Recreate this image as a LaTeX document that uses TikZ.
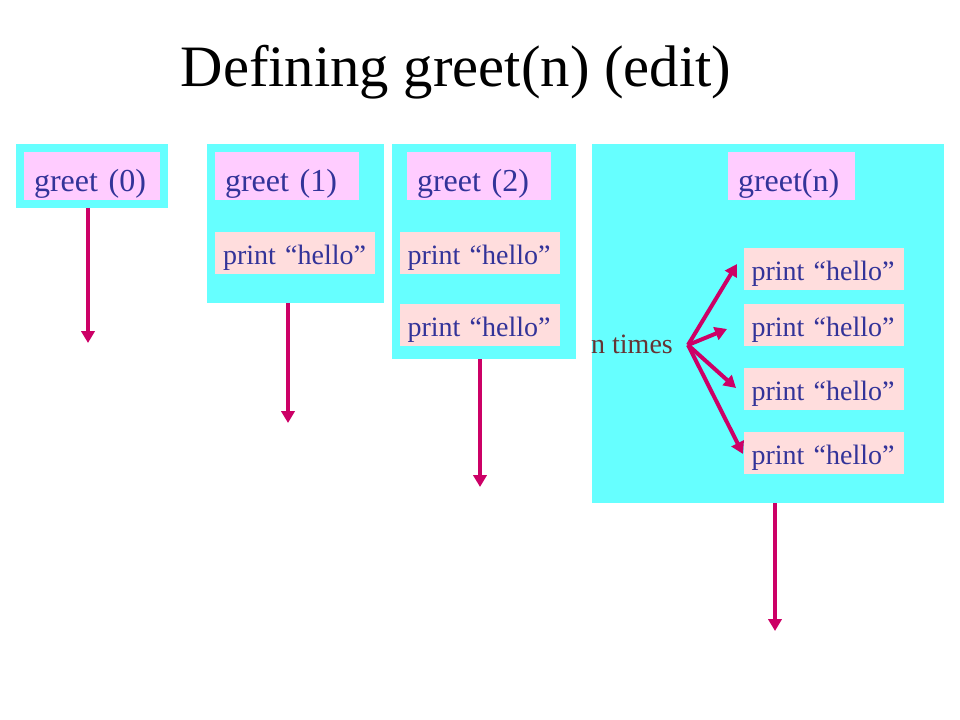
\documentclass[tikz,border=0pt]{standalone}
\usepackage{fontspec}
\setmainfont{Liberation Serif}
\usetikzlibrary{arrows.meta}

\definecolor{framecyan}{HTML}{66FFFF}
\definecolor{headpink}{HTML}{FFCCFF}
\definecolor{printpink}{HTML}{FFDDDD}
\definecolor{textblue}{HTML}{333399}
\definecolor{arrowred}{HTML}{CC0066}
\definecolor{timesbrown}{HTML}{663333}

\tikzset{
  frame/.style={fill=framecyan, inner sep=0pt, outer sep=0pt},
  headbox/.style={fill=headpink, text=textblue, font=\fontsize{24}{28}\selectfont,
    inner xsep=7.5pt, inner ysep=0pt, minimum height=36pt, text height=24pt, text depth=0pt, align=left},
  printbox/.style={fill=printpink, text=textblue, font=\fontsize{21}{25}\selectfont,
    inner xsep=6pt, inner ysep=0pt, minimum height=31.5pt, text height=17.5pt, text depth=0pt,
    text width=108pt, align=left},
  flow/.style={draw=arrowred, line width=3pt, -{Triangle[length=9pt,width=10pt]}}
}

\begin{document}
\begin{tikzpicture}[x=0.75pt,y=-0.75pt]

        \useasboundingbox (0,0) rectangle (960,720);

        % title
        \node[anchor=base, font=\fontsize{44}{50}\selectfont] (title) at (456,87) {Defining greet(n) (edit)};

        % frames
        \node[frame, minimum width=114pt, minimum height=48pt] (f0) at (92,176) {};
        \node[frame, minimum width=132.75pt, minimum height=119.25pt] (f1) at (295.5,223.5) {};
        \node[frame, minimum width=138pt, minimum height=161.25pt] (f2) at (484,251.5) {};
        \node[frame, minimum width=264pt, minimum height=269.25pt] (fn) at (768,323.5) {};

        % headers
        \node[headbox, text width=87pt] (g0) at (92,176) {greet (0)};
        \node[headbox, text width=93pt] (g1) at (287,176) {greet (1)};
        \node[headbox, text width=93pt] (g2) at (479,176) {greet (2)};
        \node[headbox, text width=80.25pt] (gn) at (791.5,176) {greet(n)};

        % print statements
        \node[printbox] (p11) at (295,253) {print “hello”};
        \node[printbox] (p21) at (479.5,253) {print “hello”};
        \node[printbox] (p22) at (479.5,325) {print “hello”};
        \foreach \i/\y in {1/269,2/325,3/389,4/453}{
            \node[printbox] (pn\i) at (823.5,\y) {print “hello”};
        }

        % n times fan
        \node[text=timesbrown, font=\fontsize{21}{25}\selectfont, inner sep=0pt] (ntimes) at (632,344) {n times};
        \coordinate (fan) at (688,345);
        \coordinate (t1) at (737,264);
        \coordinate (t2) at (727,329);
        \coordinate (t3) at (736,388);
        \coordinate (t4) at (743,454);
        \foreach \i in {1,...,4}{
            \draw[flow] (fan) -- (t\i);
        }

        % exits
        \coordinate (e0) at (88,343);
        \coordinate (e1) at (288,423);
        \coordinate (e2) at (480,487);
        \coordinate (en) at (775,631);
        \draw[flow] (f0.south -| e0) -- (e0);
        \draw[flow] (f1.south -| e1) -- (e1);
        \draw[flow] (f2.south -| e2) -- (e2);
        \draw[flow] (fn.south -| en) -- (en);

\end{tikzpicture}
\end{document}
